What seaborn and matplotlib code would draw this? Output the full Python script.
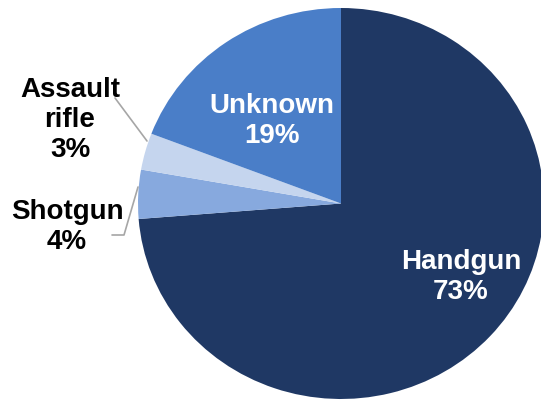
import matplotlib
matplotlib.use("Agg")
import matplotlib.pyplot as plt
import seaborn as sns

# weapon types, clockwise from 12 o'clock
categories = ["Handgun", "Shotgun", "Assault\nrifle", "Unknown"]
shares = [73, 4, 3, 19]
colours = ["#1F3864", "#87A9DE", "#C5D5EE", "#4A7EC8"]

W, H = 541, 400
cx, cy = 341, 203.5      # pie centre in pixels (top-left origin)
rx, ry = 203, 195.5      # pie looks a bit stretched sideways


def px(x, y):
    # pixel position -> data coords of a unit pie
    return (x - cx) / rx, (cy - y) / ry


sns.set_theme(style="white")
plt.rcParams["font.family"] = ["Liberation Sans", "DejaVu Sans"]

fig = plt.figure(figsize=(W / 100, H / 100), dpi=100)
ax = fig.add_axes([0, 0, 1, 1])
palette = sns.color_palette(colours)

ax.pie(shares, colors=palette, startangle=90, counterclock=False, radius=1,
       wedgeprops=dict(linewidth=0))
ax.set_aspect("auto")
ax.set_xlim(px(0, 0)[0], px(W, 0)[0])
ax.set_ylim(px(0, H)[1], px(0, 0)[1])
ax.axis("off")

labelPos = {
    "Handgun": ((461, 277), "white"),
    "Unknown": ((272, 121), "white"),
    "Assault\nrifle": ((70, 120), "black"),
    "Shotgun": ((67, 227), "black"),
}
for name, value in zip(categories, shares):
    (x, y), c = labelPos[name]
    ax.text(*px(x, y), f"{name}\n{round(value)}%", ha="center", va="center",
            fontsize=20, fontweight="bold", color=c, linespacing=1.18)

# leader lines for the two small slices
lineCol = "#A6A6A6"
ax.plot(*zip(px(115, 98), px(147, 141)), color=lineCol, lw=1.2)
ax.plot(*zip(px(112, 235), px(124, 235), px(138, 187)), color=lineCol, lw=1.2)

fig.savefig("out.png", dpi=100)
